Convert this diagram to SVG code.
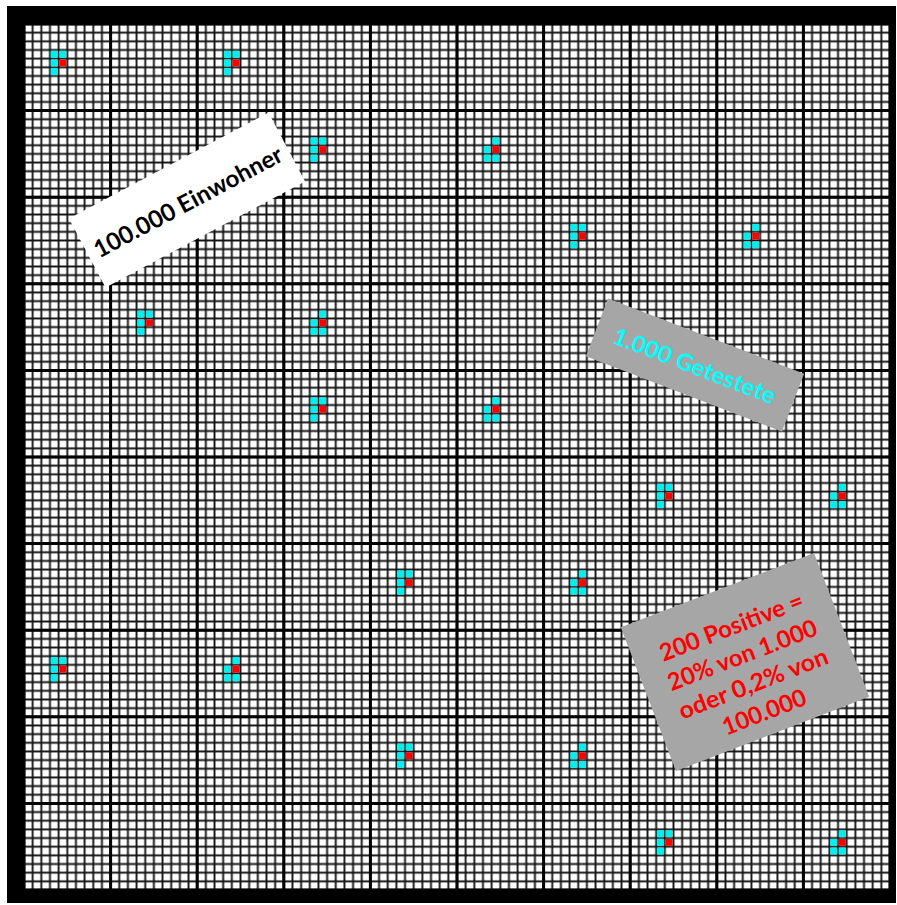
<svg xmlns="http://www.w3.org/2000/svg" width="897" height="905" viewBox="0 0 897 905">
<style>
.c{fill:#00F0F0}
.r{fill:#FF0000}
.lbl{font-family:Lato,"Open Sans","Liberation Sans",sans-serif;font-weight:bold;text-anchor:middle;dominant-baseline:central}
</style>
<defs>
<pattern id="cell" patternUnits="userSpaceOnUse" x="19.67" y="19.67" width="8.66" height="8.66">
<rect width="8.66" height="8.66" fill="#fff"/>
<path d="M0 4.33H8.66M4.33 0V8.66" stroke="#141414" stroke-width="1.9" fill="none"/>
</pattern>
<g id="p1">
<rect class="c" x="0.9" y="0.9" width="6.86" height="6.86"/>
<rect class="c" x="9.56" y="0.9" width="6.86" height="6.86"/>
<rect class="c" x="0.9" y="9.56" width="6.86" height="6.86"/>
<rect class="r" x="9.56" y="9.56" width="6.86" height="6.86"/>
<rect class="c" x="0.9" y="18.22" width="6.86" height="6.86"/>
</g>
<g id="p2">
<rect class="c" x="9.56" y="0.9" width="6.86" height="6.86"/>
<rect class="c" x="0.9" y="9.56" width="6.86" height="6.86"/>
<rect class="r" x="9.56" y="9.56" width="6.86" height="6.86"/>
<rect class="c" x="0.9" y="18.22" width="6.86" height="6.86"/>
<rect class="c" x="9.56" y="18.22" width="6.86" height="6.86"/>
</g>
</defs>
<rect width="897" height="905" fill="#fff"/>
<g id="grid">
<rect x="7" y="6" width="889" height="897" fill="#000"/>
<rect x="24" y="24" width="866" height="866" fill="url(#cell)"/>
<path d="M24 24V890M110.6 24V890M197.2 24V890M283.8 24V890M370.4 24V890M457 24V890M543.6 24V890M630.2 24V890M716.8 24V890M803.4 24V890M890 24V890M24 24H890M24 110.6H890M24 197.2H890M24 283.8H890M24 370.4H890M24 457H890M24 543.6H890M24 630.2H890M24 716.8H890M24 803.4H890M24 890H890" stroke="#000" stroke-width="3" fill="none"/>
</g>
<g id="markers">
<use href="#p1" x="49.98" y="49.98"/>
<use href="#p1" x="223.18" y="49.98"/>
<use href="#p1" x="309.78" y="136.58"/>
<use href="#p2" x="482.98" y="136.58"/>
<use href="#p1" x="569.58" y="223.18"/>
<use href="#p2" x="742.78" y="223.18"/>
<use href="#p1" x="136.58" y="309.78"/>
<use href="#p2" x="309.78" y="309.78"/>
<use href="#p1" x="309.78" y="396.38"/>
<use href="#p2" x="482.98" y="396.38"/>
<use href="#p1" x="656.18" y="482.98"/>
<use href="#p2" x="829.38" y="482.98"/>
<use href="#p1" x="396.38" y="569.58"/>
<use href="#p2" x="569.58" y="569.58"/>
<use href="#p1" x="49.98" y="656.18"/>
<use href="#p2" x="223.18" y="656.18"/>
<use href="#p1" x="396.38" y="742.78"/>
<use href="#p2" x="569.58" y="742.78"/>
<use href="#p1" x="656.18" y="829.38"/>
<use href="#p2" x="829.38" y="829.38"/>
</g>
<g id="einwohner" transform="translate(187 200) rotate(-28)">
<rect x="-113" y="-39" width="226" height="78" fill="#fff"/>
<text class="lbl" x="0" y="1" font-size="24" fill="#000" textLength="210" lengthAdjust="spacingAndGlyphs">100.000 Einwohner</text>
</g>
<g id="getestete" transform="translate(695 365) rotate(21)">
<rect x="-105" y="-31" width="210" height="62" fill="#a6a6a6"/>
<text class="lbl" x="0" y="0" font-size="23" fill="#00FFFF" textLength="172" lengthAdjust="spacingAndGlyphs">1.000 Getestete</text>
</g>
<g id="positive" transform="translate(745 662) rotate(-21)">
<rect x="-103.5" y="-77" width="207" height="154" fill="#a6a6a6"/>
<text class="lbl" x="0" y="-39" font-size="24" fill="#FF0000" textLength="152" lengthAdjust="spacingAndGlyphs">200 Positive =</text>
<text class="lbl" x="0" y="-8.5" font-size="24" fill="#FF0000" textLength="158" lengthAdjust="spacingAndGlyphs">20% von 1.000</text>
<text class="lbl" x="0" y="22" font-size="24" fill="#FF0000" textLength="158" lengthAdjust="spacingAndGlyphs">oder 0,2% von</text>
<text class="lbl" x="0" y="52.5" font-size="24" fill="#FF0000" textLength="88" lengthAdjust="spacingAndGlyphs">100.000</text>
</g>
</svg>
